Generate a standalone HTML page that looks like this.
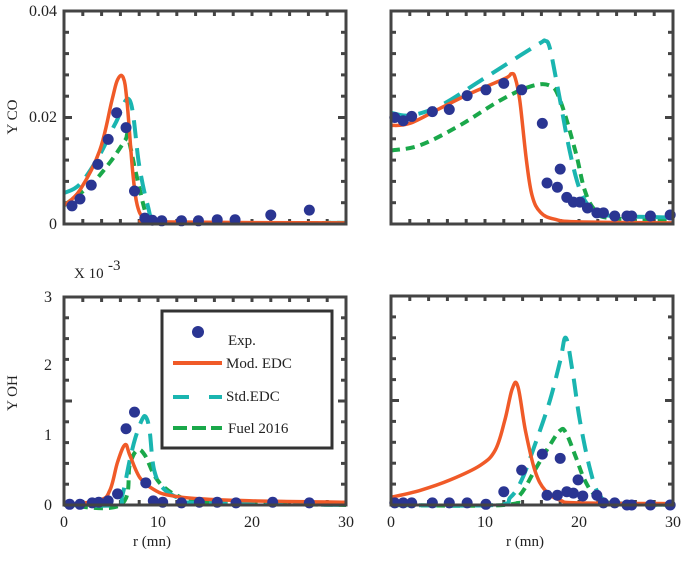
<!DOCTYPE html>
<html><head><meta charset="utf-8"><style>
body{margin:0;background:#fff;}
svg text{font-family:"Liberation Serif",serif;fill:#222;}
</style></head><body>
<svg id="chart" width="683" height="583" viewBox="0 0 683 583" xmlns="http://www.w3.org/2000/svg"></svg>
<script>
// ---- data (r in mm, Y values) ----
const tlExpR=[0.85,1.7,2.9,3.6,4.7,5.6,6.6,7.5,8.6,9.4,10.4,12.5,14.3,16.3,18.2,22.0,26.1];
const tlExpY=[.0034,.0047,.0073,.0112,.0159,.0209,.0181,.0062,.0011,.0007,.0006,.0006,.0006,.0008,.0008,.0017,.0026];
const tlModR=[0,1.7,3.8,5.1,5.7,6.3,6.7,7.3,7.8,8.6,10.2,30];
const tlModY=[.0035,.0064,.0138,.0232,.0271,.0275,.023,.010,.0035,.001,.0004,.0002];
const tlStdR=[0,1.7,3.8,5.5,7,8,8.9,9.6,12,30];
const tlStdY=[.0058,.0075,.013,.019,.0232,.011,.0035,.0007,.0002,.0002];
const tlFuelR=[0,2.8,4.9,6.5,6.8,7.7,8.6,9.1,12,30];
const tlFuelY=[.0035,.0073,.0116,.0157,.0163,.0092,.0026,.0007,.0002,.0002];

const trExpR=[0.4,1.3,2.2,4.4,6.2,8.1,10.1,12.0,13.9,16.1,18.0,16.6,17.7,18.7,19.4,20.1,20.9,21.9,22.6,23.8,25.1,25.6,27.6,29.7];
const trExpY=[.0200,.0194,.0202,.0211,.0215,.0241,.0252,.0264,.0252,.0189,.0103,.0077,.0069,.0050,.0041,.0041,.0030,.0021,.0021,.0015,.0015,.0015,.0015,.0017];
const trModR=[0,2,5.2,8.4,12.1,12.8,13.2,13.7,14.4,15,15.9,17.4,20,30];
const trModY=[.0185,.0189,.0217,.0245,.0273,.0282,.0275,.0232,.012,.0054,.0022,.0009,.0004,.0002];
const trStdR=[0,2,5.2,9.5,13.7,15.9,16.4,16.9,17.8,19,20.1,21.2,22.2,30];
const trStdY=[.0209,.0204,.0222,.0269,.0316,.034,.0344,.033,.025,.0138,.0064,.003,.0017,.0012];
const trFuelR=[0,3.1,7.3,11.6,14.8,16.9,18,19.6,20.6,21.7,23.3,30];
const trFuelY=[.0138,.0148,.0185,.0232,.0258,.026,.0232,.0138,.0064,.0026,.0011,.0008];

const blExpR=[0.6,1.7,3.0,3.7,4.7,5.7,6.6,7.5,8.7,9.5,10.5,12.5,14.4,16.3,18.3,22.2,26.1];
const blExpY=[.01,.01,.03,.04,.06,.16,1.10,1.34,.32,.06,.04,.03,.04,.04,.03,.04,.03];
const blModR=[0,3.8,4.9,5.7,6.5,7,8.1,9.6,11.2,14.4,19.7,30];
const blModY=[0,.07,.22,.62,.87,.72,.39,.22,.14,.09,.06,.04];
const blStdR=[0,5.5,6.2,7,7.6,8.3,8.7,9.1,9.6,10.7,12.8,14.4,30];
const blStdY=[0,0,.14,.65,.97,1.23,1.27,1.08,.5,.22,.07,.03,0];
const blFuelR=[0,6,7,7.8,8.6,9.6,10.7,12.3,14.4,30];
const blFuelY=[0,0,.58,.79,.72,.43,.25,.12,.04,0];

const brExpR=[.4,1.3,2.2,4.4,6.2,8.1,10.1,12.0,13.9,16.1,18.0,19.9,16.6,17.7,18.7,19.4,20.4,21.9,22.6,23.8,25.1,25.6,27.6,29.7];
const brExpY=[.03,.03,.03,.03,.03,.03,.01,.19,.50,.73,.67,.36,.14,.14,.19,.17,.13,.14,.03,.03,0,0,0,0];
const brModR=[0,3.1,6.3,9.5,11.1,12.1,12.9,13.5,14.3,15.3,16.4,18,20,30];
const brModY=[.11,.21,.36,.57,.79,1.21,1.67,1.70,1.07,.5,.21,.07,.03,.02];
const brStdR=[0,11,12.7,13.9,15.3,16.9,18,18.6,19.3,20.1,21.2,22.2,23.8,30];
const brStdY=[0,0,.11,.36,.86,1.5,2.07,2.4,1.93,1.21,.5,.14,.03,0];
const brFuelR=[0,12,13.7,15.3,16.9,18,18.6,19.6,20.6,21.7,23.3,30];
const brFuelY=[0,0,.14,.5,.86,1.07,1.04,.71,.36,.14,.03,0];

const xTickLabels=["0","10","20","30"];
const xTickVals=[0,10,20,30];

const NS="http://www.w3.org/2000/svg";
const svg=document.getElementById('chart');
function el(tag,attrs,parent){const e=document.createElementNS(NS,tag);for(const k in attrs)e.setAttribute(k,attrs[k]);(parent||svg).appendChild(e);return e;}
function smooth(P){
  let d='M'+P[0][0].toFixed(1)+','+P[0][1].toFixed(1);
  for(let i=0;i<P.length-1;i++){
    const p0=P[Math.max(0,i-1)],p1=P[i],p2=P[i+1],p3=P[Math.min(P.length-1,i+2)];
    const t=0.18;
    const c1=[p1[0]+(p2[0]-p0[0])*t,p1[1]+(p2[1]-p0[1])*t];
    const c2=[p2[0]-(p3[0]-p1[0])*t,p2[1]-(p3[1]-p1[1])*t];
    d+=' C'+c1[0].toFixed(1)+','+c1[1].toFixed(1)+' '+c2[0].toFixed(1)+','+c2[1].toFixed(1)+' '+p2[0].toFixed(1)+','+p2[1].toFixed(1);
  }
  return d;
}

function panel(name,box,ymax,data){
  const g=el('g',{});
  
  
  const xs=r=>box.x0+(r/30)*(box.x1-box.x0);
  const ys=v=>box.y1-(v/ymax)*(box.y1-box.y0);
  for(let i=1;i<15;i++){const x=box.x0+i*(box.x1-box.x0)/15;
    el('line',{x1:x,x2:x,y1:box.y0,y2:box.y0+5,stroke:'#444','stroke-width':3},g);
    el('line',{x1:x,x2:x,y1:box.y1,y2:box.y1-5,stroke:'#444','stroke-width':3},g);}
  for(let i=1;i<10;i++){const y=box.y0+i*(box.y1-box.y0)/10;const w=(i==5)?8:5;
    el('line',{x1:box.x0,x2:box.x0+w,y1:y,y2:y,stroke:'#444','stroke-width':3},g);
    el('line',{x1:box.x1,x2:box.x1-w,y1:y,y2:y,stroke:'#444','stroke-width':3},g);}
  const styles={mod:{stroke:'#f05a28',d:'none',w:3.5},std:{stroke:'#1ab5b0',d:'18 10',w:4},fuel:{stroke:'#1aa84a',d:'9 6',w:4}};
  ['fuel','std','mod'].forEach(k=>{
    const R=data[k+'R'],Y=data[k+'Y'];
    const P=R.map((r,i)=>[xs(r),ys(Y[i])]);
    const p=el('path',{d:smooth(P),fill:'none',stroke:styles[k].stroke,'stroke-width':styles[k].w,'stroke-dasharray':styles[k].d,'stroke-linejoin':'round'},g);
    
    
  });
  data.expR.forEach((r,i)=>{
    const c=el('circle',{cx:xs(r),cy:ys(data.expY[i]),r:5.5,fill:'#2a3592'},g);
    
    
  });
  const f=el('rect',{x:box.x0,y:box.y0,width:box.x1-box.x0,height:box.y1-box.y0,fill:'none',stroke:'#444','stroke-width':3},g);
  
  
  return {xs,ys};
}
function pack(eR,eY,mR,mY,sR,sY,fR,fY){return {expR:eR,expY:eY,modR:mR,modY:mY,stdR:sR,stdY:sY,fuelR:fR,fuelY:fY};}

panel('panel-co-left',{x0:64,x1:346,y0:11,y1:224},0.04,pack(tlExpR,tlExpY,tlModR,tlModY,tlStdR,tlStdY,tlFuelR,tlFuelY));
panel('panel-co-right',{x0:391,x1:673,y0:11,y1:224},0.04,pack(trExpR,trExpY,trModR,trModY,trStdR,trStdY,trFuelR,trFuelY));
const bl=panel('panel-oh-left',{x0:64,x1:346,y0:297,y1:505},3,pack(blExpR,blExpY,blModR,blModY,blStdR,blStdY,blFuelR,blFuelY));
const br=panel('panel-oh-right',{x0:391,x1:673,y0:296,y1:505},3,pack(brExpR,brExpY,brModR,brModY,brStdR,brStdY,brFuelR,brFuelY));

function txt(s,attrs,name){const t=el('text',attrs);t.textContent=s;return t;}
txt('0.04',{x:57,y:16,'font-size':16,'text-anchor':'end'},'y-tick-label');
txt('0.02',{x:57,y:122,'font-size':16,'text-anchor':'end'},'y-tick-label');
txt('0',{x:57,y:229,'font-size':16,'text-anchor':'end'},'y-tick-label');
txt('3',{x:52,y:302,'font-size':16,'text-anchor':'end'},'y-tick-label');
txt('2',{x:52,y:370,'font-size':16,'text-anchor':'end'},'y-tick-label');
txt('1',{x:52,y:440,'font-size':16,'text-anchor':'end'},'y-tick-label');
txt('0',{x:52,y:510,'font-size':16,'text-anchor':'end'},'y-tick-label');
txt('Y CO',{x:0,y:0,'font-size':15,'text-anchor':'middle',transform:'translate(17,117) rotate(-90)'},'y-axis-title-co');
txt('Y OH',{x:0,y:0,'font-size':15,'text-anchor':'middle',transform:'translate(17,393) rotate(-90)'},'y-axis-title-oh');
txt('X 10',{x:74,y:278,'font-size':15},'y-scale-factor');
txt('-3',{x:108,y:270,'font-size':15},'y-scale-exponent');
xTickVals.forEach((v,i)=>{
  txt(xTickLabels[i],{x:bl.xs(v),y:527,'font-size':16,'text-anchor':'middle'},'x-tick-label');
  txt(xTickLabels[i],{x:br.xs(v),y:527,'font-size':16,'text-anchor':'middle'},'x-tick-label');
});
txt('r (mn)',{x:152,y:546,'font-size':15,'text-anchor':'middle'},'x-axis-title-left');
txt('r (mn)',{x:525,y:546,'font-size':15,'text-anchor':'middle'},'x-axis-title-right');

const lg=el('g',{});


el('rect',{x:162,y:311,width:170,height:137,fill:'#fff',stroke:'#333','stroke-width':3},lg);
el('circle',{cx:198,cy:332,r:6,fill:'#2a3592'},lg);
el('line',{x1:173,x2:222,y1:363,y2:363,stroke:'#f05a28','stroke-width':4},lg);
el('line',{x1:173,x2:222,y1:397,y2:397,stroke:'#1ab5b0','stroke-width':4,'stroke-dasharray':'16 20'},lg);
el('line',{x1:173,x2:222,y1:428,y2:428,stroke:'#1aa84a','stroke-width':4,'stroke-dasharray':'14 5'},lg);
txt('Exp.',{x:228,y:345,'font-size':15},'legend-entry-exp');
txt('Mod. EDC',{x:226,y:368,'font-size':15},'legend-entry-mod');
txt('Std.EDC',{x:226,y:401,'font-size':15},'legend-entry-std');
txt('Fuel 2016',{x:228,y:433,'font-size':15},'legend-entry-fuel');
</script>
</body></html>
